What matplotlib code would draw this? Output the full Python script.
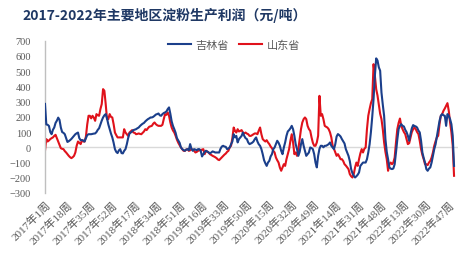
import matplotlib
matplotlib.use("Agg")
import matplotlib.pyplot as plt
import numpy as np

# weekly profit, yuan/ton, 2017 week 1 .. 2022 week 51 (52 weeks per year)
jilin = [
    285, 150, 148, 140, 100, 86, 115, 130, 160, 175,      # 0
    195, 180, 130, 100, 95, 86, 60, 35, 40, 47,           # 10
    55, 65, 75, 86, 92, 97, 60, 47, 47, 45,               # 20
    38, 60, 80, 86, 86, 86, 88, 90, 91, 100,              # 30
    115, 125, 150, 175, 196, 210, 218, 190, 150, 119,     # 40
    90, 65, 30, -12, -30, -38, -20, -12, -38, -40,        # 50
    -23, -12, 20, 60, 90, 97, 105, 113, 116, 119,         # 60
    125, 130, 140, 148, 155, 160, 170, 178, 185, 190,     # 70
    196, 196, 200, 207, 215, 218, 222, 210, 207, 218,     # 80
    225, 229, 235, 251, 262, 220, 170, 140, 119, 95,      # 90
    60, 45, 30, 0, -12, -18, -23, -15, -12, -19,          # 100
    21, -10, -23, -12, -15, -19, -12, -12, -23, -60,      # 110
    -45, -30, -23, -28, -34, -40, -34, -27, -30, -34,     # 120
    -34, -34, -34, -10, 5, 10, 5, 3, -12, -8,             # 130
    -1, 20, 38, 86, 65, 75, 32, 54, 65, 75,               # 140
    97, 75, 60, 54, 32, 21, 25, 30, 38, 54,               # 150
    65, 38, 20, 10, -12, -45, -84, -105, -122, -100,      # 160
    -89, -60, -45, -12, -1, 21, 43, 30, 10, -23,          # 170
    -45, -1, 32, 75, 104, 113, 125, 141, 119, 75,         # 180
    20, -12, -56, -30, 20, 54, 10, -23, -56, -45,         # 190
    -34, -1, -5, -12, -45, -100, -132, -56, -10, 10,      # 200
    10, 0, 10, 10, 15, 21, 32, 10, -1, -12,               # 210
    21, 71, 87, 80, 71, 54, 40, 25, -12, -34,             # 220
    -56, -90, -143, -170, -187, -198, -190, -180, -165, -122,  # 230
    -111, -100, -100, -100, -78, -34, 20, 100, 200, 316,  # 240
    470, 584, 570, 525, 503, 360, 280, 207, 54, -30,      # 250
    -78, -132, -140, -143, -139, -111, -34, 50, 120, 141, # 260
    152, 141, 137, 115, 100, 76, 43, 87, 125, 146,        # 270
    140, 137, 130, 110, 98, 43, -34, -70, -100, -143,     # 280
    -154, -140, -132, -100, -56, -12, 20, 70, 119, 174,   # 290
    207, 218, 210, 207, 141, 218, 207, 185, 152, 76,      # 300
    -122,                                                 # 310
]

shandong = [
    -23, 54, 38, 45, 54, 60, 65, 75, 82, 60,              # 0
    38, 15, -6, -10, -12, -25, -34, -45, -56, -65,        # 10
    -71, -65, -56, -34, 10, 38, 30, 21, 47, 38,           # 20
    38, 70, 150, 207, 207, 190, 207, 195, 174, 218,       # 30
    210, 207, 251, 284, 382, 371, 284, 185, 185, 218,     # 40
    200, 196, 152, 97, 80, 65, 65, 65, 65, 65,            # 50
    119, 97, 86, 75, 97, 105, 113, 97, 95, 86,            # 60
    88, 91, 88, 86, 95, 104, 119, 113, 125, 135,          # 70
    138, 141, 155, 163, 152, 145, 141, 141, 141, 148,     # 80
    185, 218, 213, 229, 207, 163, 130, 110, 97, 75,       # 90
    50, 30, 15, -1, -12, -23, -23, -15, -12, -23,         # 100
    -20, -12, -15, -23, -34, -30, -23, -20, -19, -15,     # 110
    -12, -45, -23, -28, -34, -45, -50, -56, -60, -65,     # 120
    -71, -80, -84, -75, -65, -56, -48, -41, -30, -23,     # 130
    0, 10, 60, 130, 108, 97, 119, 104, 108, 113,          # 140
    97, 91, 97, 90, 86, 75, 75, 80, 86, 91,               # 150
    91, 86, 110, 130, 86, 54, 45, 38, 47, 32,             # 160
    21, 5, -6, -23, -34, -67, -85, -100, -133, -154,      # 170
    -133, -111, -122, -78, -45, -12, 43, 86, 32, -45,     # 180
    -34, -56, -12, 54, 119, 163, 185, 196, 185, 141,      # 190
    120, 108, 65, 30, 10, 10, 32, 76, 338, 207,           # 200
    218, 185, 141, 135, 130, 119, 98, 65, 10, -10,        # 210
    -34, -56, -45, -60, -78, -78, -90, -111, -120, -132,  # 220
    -143, -176, -190, -198, -176, -132, -100, -122, -78, -40,  # 230
    -12, -34, -10, -1, 119, 207, 251, 290, 316, 546,      # 240
    470, 382, 340, 280, 220, 185, 119, 32, -30, -78,      # 250
    -154, -111, -100, -111, -100, -67, 32, 119, 160, 189, # 260
    141, 119, 100, 87, 54, 21, 27, 65, 100, 119,          # 270
    130, 119, 100, 87, 43, -12, -50, -78, -111, -111,     # 280
    -117, -100, -89, -67, -34, 10, 40, 65, 76, 152,       # 290
    207, 218, 240, 255, 273, 290, 240, 163, 98, 10,       # 300
    -187,                                                 # 310
]

tick_pos = [0, 17, 34, 51, 68, 85, 102, 119, 136, 153,
            170, 187, 204, 221, 238, 255, 272, 289, 306]
tick_labels = ["2017年1周", "2017年18周", "2017年35周", "2017年52周",
               "2018年17周", "2018年34周", "2018年51周", "2019年16周",
               "2019年33周", "2019年50周", "2020年15周", "2020年32周",
               "2020年49周", "2021年14周", "2021年31周", "2021年48周",
               "2022年13周", "2022年30周", "2022年47周"]

title = "2017-2022年主要地区淀粉生产利润（元/吨）"
serif_cjk = ["Liberation Serif", "Noto Sans CJK SC"]
sans_cjk = ["Noto Sans CJK SC", "DejaVu Sans"]

fig = plt.figure(figsize=(4.74, 2.55), dpi=100)
ax = fig.add_axes([45 / 474, 1 - 194 / 255, 413 / 474, (194 - 41.7) / 255])

weeks = np.arange(len(jilin))
ax.axhline(0, color="#D9D9D9", linewidth=1, zorder=1)
ax.plot(weeks, jilin, color="#1B3F8B", linewidth=1.5, label="吉林省", zorder=3)
ax.plot(weeks, shandong, color="#E0121B", linewidth=1.5, label="山东省", zorder=2)

ax.set_xlim(0, 313)
ax.set_ylim(-300, 700)
ax.set_yticks(np.arange(-300, 701, 100))
ax.set_xticks(tick_pos)
ax.set_xticklabels(tick_labels, rotation=45, ha="right", rotation_mode="anchor",
                   family=serif_cjk, fontsize=8, color="#595959")
for lab in ax.get_yticklabels():
    lab.set_family(serif_cjk)
    lab.set_fontsize(7.5)
    lab.set_color("#595959")
ax.tick_params(axis="both", length=0)
ax.tick_params(axis="y", pad=10)
ax.tick_params(axis="x", pad=4)

for side in ["top", "right", "bottom"]:
    ax.spines[side].set_visible(False)
ax.spines["left"].set_color("#BFBFBF")
ax.spines["left"].set_linewidth(1)

fig.text(22 / 474, 1 - 15 / 255, title, fontsize=10, fontweight="bold",
         color="#1F3864", family=sans_cjk, va="center", ha="left")

leg = fig.legend(loc="center", bbox_to_anchor=(234 / 474, 1 - 46 / 255), ncol=2,
                 frameon=False, handlelength=2.1, columnspacing=0.9,
                 handletextpad=0.4, prop={"family": sans_cjk, "size": 8})
for t in leg.get_texts():
    t.set_color("#595959")

fig.savefig("out.png", dpi=100)
